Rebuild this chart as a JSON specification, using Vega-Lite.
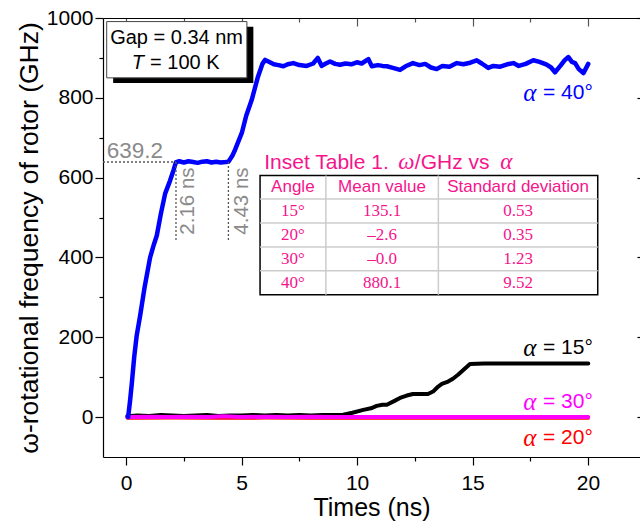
{
  "$schema": "https://vega.github.io/schema/vega-lite/v6.json",
  "width": 537,
  "height": 439,
  "autosize": {"type": "none"},
  "padding": {"left": 103, "top": 18, "right": 0, "bottom": 68},
  "background": "white",
  "config": {"view": {"stroke": null}, "font": "Liberation Sans", "axis": {"grid": false}},
  "datasets": {
    "s40": [
      {"t":0.09,"w":0},{"t":0.17,"w":40},{"t":0.25,"w":86},{"t":0.35,"w":150},{"t":0.46,"w":205},{"t":0.61,"w":255},{"t":0.8,"w":325},{"t":1.04,"w":400},{"t":1.2,"w":432},{"t":1.33,"w":455},{"t":1.5,"w":508},{"t":1.69,"w":560},{"t":1.9,"w":592},{"t":2.05,"w":618},{"t":2.16,"w":639},{"t":2.3,"w":641},{"t":2.5,"w":638},{"t":2.7,"w":641},{"t":2.9,"w":639},{"t":3.1,"w":637},{"t":3.3,"w":640},{"t":3.5,"w":641},{"t":3.7,"w":638},{"t":3.9,"w":640},{"t":4.1,"w":638},{"t":4.3,"w":639},{"t":4.43,"w":640},{"t":4.6,"w":655},{"t":4.72,"w":670},{"t":5.01,"w":712},{"t":5.2,"w":755},{"t":5.44,"w":795},{"t":5.71,"w":853},{"t":5.9,"w":885},{"t":6.02,"w":895},{"t":6.16,"w":891},{"t":6.4,"w":884},{"t":6.6,"w":882},{"t":6.81,"w":879},{"t":7.0,"w":884},{"t":7.24,"w":887},{"t":7.5,"w":882},{"t":7.82,"w":880},{"t":8.1,"w":886},{"t":8.3,"w":900},{"t":8.47,"w":880},{"t":8.65,"w":886},{"t":8.83,"w":891},{"t":9.05,"w":885},{"t":9.26,"w":883},{"t":9.5,"w":886},{"t":9.75,"w":884},{"t":9.99,"w":889},{"t":10.2,"w":886},{"t":10.49,"w":897},{"t":10.64,"w":879},{"t":10.9,"w":882},{"t":11.1,"w":880},{"t":11.29,"w":879},{"t":11.55,"w":875},{"t":11.86,"w":870},{"t":12.1,"w":879},{"t":12.42,"w":887},{"t":12.7,"w":882},{"t":12.95,"w":885},{"t":13.2,"w":876},{"t":13.45,"w":872},{"t":13.7,"w":880},{"t":14.0,"w":878},{"t":14.32,"w":887},{"t":14.6,"w":884},{"t":14.9,"w":888},{"t":15.18,"w":894},{"t":15.4,"w":886},{"t":15.68,"w":875},{"t":15.9,"w":880},{"t":16.2,"w":878},{"t":16.5,"w":884},{"t":16.77,"w":887},{"t":17.0,"w":880},{"t":17.3,"w":885},{"t":17.63,"w":894},{"t":17.9,"w":890},{"t":18.21,"w":883},{"t":18.4,"w":876},{"t":18.57,"w":864},{"t":18.8,"w":880},{"t":19.0,"w":895},{"t":19.15,"w":902},{"t":19.3,"w":890},{"t":19.44,"w":887},{"t":19.6,"w":872},{"t":19.8,"w":862},{"t":20.01,"w":885}
    ],
    "s15": [
      {"t":0.05,"w":2},{"t":0.5,"w":4},{"t":1.0,"w":3},{"t":1.5,"w":5},{"t":2.0,"w":4},{"t":2.5,"w":3},{"t":3.0,"w":4},{"t":3.5,"w":5},{"t":4.0,"w":3},{"t":4.5,"w":4},{"t":5.0,"w":4},{"t":5.5,"w":5},{"t":6.0,"w":4},{"t":6.5,"w":5},{"t":7.0,"w":4},{"t":7.5,"w":5},{"t":8.0,"w":4},{"t":8.5,"w":5},{"t":9.0,"w":5},{"t":9.4,"w":6},{"t":9.8,"w":11},{"t":10.27,"w":18},{"t":10.6,"w":22},{"t":10.85,"w":28},{"t":11.1,"w":31},{"t":11.29,"w":31},{"t":11.6,"w":40},{"t":11.86,"w":48},{"t":12.15,"w":54},{"t":12.42,"w":58},{"t":12.8,"w":58},{"t":13.07,"w":58},{"t":13.29,"w":64},{"t":13.5,"w":76},{"t":13.67,"w":83},{"t":13.94,"w":89},{"t":14.15,"w":96},{"t":14.37,"w":106},{"t":14.6,"w":118},{"t":14.89,"w":133},{"t":15.5,"w":134},{"t":16.5,"w":134},{"t":17.5,"w":134},{"t":18.5,"w":134},{"t":20.01,"w":134}
    ],
    "s30": [
      {"t":0.05,"w":0},{"t":1.0,"w":1},{"t":1.8,"w":0},{"t":2.5,"w":1},{"t":3.6,"w":0},{"t":4.2,"w":2},{"t":5.0,"w":0},{"t":6.0,"w":1},{"t":7.0,"w":0},{"t":8.0,"w":1},{"t":9.0,"w":0},{"t":10.0,"w":0},{"t":12.0,"w":0},{"t":14.0,"w":0},{"t":16.0,"w":0},{"t":18.0,"w":0},{"t":20.01,"w":0}
    ],
    "s20": [
      {"t":0.05,"w":-3},{"t":2.0,"w":-2},{"t":4.0,"w":-3},{"t":6.0,"w":-2.5},{"t":8.0,"w":-3},{"t":10.0,"w":-2.6},{"t":12.0,"w":-2.6},{"t":14.0,"w":-2.6},{"t":16.0,"w":-2.6},{"t":18.0,"w":-2.6},{"t":20.01,"w":-2.6}
    ],
    "dots": [
      {"t":-1,"t2":2.16,"w":639.2,"w2":639.2},
      {"t":2.16,"t2":2.16,"w":639.2,"w2":444},
      {"t":4.43,"t2":4.43,"w":639.2,"w2":444}
    ],
    "shadow": [{"t":-0.56,"t2":5.51,"w":978,"w2":837}],
    "box": [{"t":-0.84,"t2":5.23,"w":991,"w2":850}],
    "tableBox": [{"t":5.8,"t2":20.42,"w":605.5,"w2":306.6}],
    "tableLines": [
      {"t":5.8,"t2":20.42,"w":546.4,"w2":546.4},
      {"t":5.8,"t2":20.42,"w":486.2,"w2":486.2},
      {"t":5.8,"t2":20.42,"w":426.1,"w2":426.1},
      {"t":5.8,"t2":20.42,"w":366.7,"w2":366.7},
      {"t":8.65,"t2":8.65,"w":605.5,"w2":306.6},
      {"t":13.52,"t2":13.52,"w":605.5,"w2":306.6}
    ],
    "grayText": [{"t":-0.84,"w":650,"s":"639.2"}],
    "rotText": [{"t":2.7,"w":457,"s":"2.16 ns"},{"t":5.01,"w":457,"s":"4.43 ns"}],
    "boxText": [{"t":-0.69,"w":951,"s":"Gap = 0.34 nm"},{"t":1.04,"w":888,"s":"= 100 K"}],
    "boxItalic": [{"t":0.25,"w":888,"s":"T"}],
    "insetSans": [{"t":5.98,"w":621,"s":"Inset Table 1."},{"t":12.5,"w":621,"s":"/GHz vs"}],
    "insetSerif": [{"t":11.78,"w":621,"s":"ω"},{"t":16.2,"w":621,"s":"α"}],
    "tableHead": [{"t":7.22,"w":576,"s":"Angle"},{"t":11.08,"w":576,"s":"Mean value"},{"t":16.97,"w":576,"s":"Standard deviation"}],
    "tableBody": [
      {"t":7.22,"w":516.3,"s":"15°"},{"t":11.08,"w":516.3,"s":"135.1"},{"t":16.97,"w":516.3,"s":"0.53"},
      {"t":7.22,"w":456.2,"s":"20°"},{"t":11.08,"w":456.2,"s":"–2.6"},{"t":16.97,"w":456.2,"s":"0.35"},
      {"t":7.22,"w":396.4,"s":"30°"},{"t":11.08,"w":396.4,"s":"–0.0"},{"t":16.97,"w":396.4,"s":"1.23"},
      {"t":7.22,"w":336.7,"s":"40°"},{"t":11.08,"w":336.7,"s":"880.1"},{"t":16.97,"w":336.7,"s":"9.52"}
    ],
    "labels": [
      {"a":"40","t":18.05,"ta":17.19,"w":812.8,"s":"= 40°"},
      {"a":"15","t":18.05,"ta":17.19,"w":174,"s":"= 15°"},
      {"a":"30","t":18.05,"ta":17.19,"w":38.6,"s":"= 30°"},
      {"a":"20","t":18.05,"ta":17.19,"w":-51.6,"s":"= 20°"}
    ]
  },
  "encoding": {
    "x": {"field": "t", "type": "quantitative", "scale": {"domain": [-1, 22.25], "nice": false, "zero": false}, "axis": null},
    "y": {"field": "w", "type": "quantitative", "scale": {"domain": [-100, 1000], "nice": false, "zero": false}, "axis": null}
  },
  "layer": [
    {
      "data": {"name": "s20"},
      "mark": {"type": "line", "color": "#ff0000", "strokeWidth": 3, "strokeCap": "round", "strokeJoin": "round"},
      "encoding": {
        "x": {"field": "t", "type": "quantitative", "scale": {"domain": [-1, 22.25], "nice": false, "zero": false},
          "axis": {"orient": "bottom", "values": [0, 2.5, 5, 7.5, 10, 12.5, 15, 17.5, 20], "format": "d",
            "labelExpr": "datum.value % 5 === 0 ? datum.label : ''",
            "tickSize": {"condition": {"test": "datum.value % 5 === 0", "value": 8}, "value": 4},
            "tickColor": "#000", "tickWidth": 1.2, "domainColor": "#000", "domainWidth": 1.2,
            "labelFontSize": 21, "labelColor": "#000", "labelPadding": 7, "labelFlush": false, "labelOverlap": false,
            "title": "Times (ns)", "titleFontSize": 25, "titleFontWeight": "normal", "titleColor": "#000", "titlePadding": 2}},
        "y": {"field": "w", "type": "quantitative", "scale": {"domain": [-100, 1000], "nice": false, "zero": false},
          "axis": {"orient": "left", "values": [0, 100, 200, 300, 400, 500, 600, 700, 800, 900, 1000], "format": "d",
            "labelExpr": "datum.value % 200 === 0 ? datum.label : ''",
            "tickSize": {"condition": {"test": "datum.value % 200 === 0", "value": 8}, "value": 4},
            "tickColor": "#000", "tickWidth": 1.2, "domainColor": "#000", "domainWidth": 1.2,
            "labelFontSize": 21, "labelColor": "#000", "labelPadding": 2, "labelFlush": false, "labelOverlap": false,
            "title": "ω-rotational frequency of rotor (GHz)", "titleFontSize": 26.5, "titleFontWeight": "normal", "titleColor": "#000", "titlePadding": 3}}
      }
    },
    {
      "data": {"name": "s15"},
      "mark": {"type": "line", "color": "#000000", "strokeWidth": 4, "strokeCap": "round", "strokeJoin": "round"},
      "encoding": {
        "x": {"field": "t", "type": "quantitative", "scale": {"domain": [-1, 22.25], "nice": false, "zero": false},
          "axis": {"orient": "top", "values": [0, 2.5, 5, 7.5, 10, 12.5, 15, 17.5, 20], "labels": false, "title": null,
            "tickSize": {"condition": {"test": "datum.value % 5 === 0", "value": -8}, "value": -4},
            "tickColor": "#555", "tickWidth": 1.2, "domainColor": "#000", "domainWidth": 1.2}},
        "y": {"field": "w", "type": "quantitative", "scale": {"domain": [-100, 1000], "nice": false, "zero": false},
          "axis": {"orient": "right", "values": [0, 200, 400, 600, 800, 1000], "labels": false, "title": null,
            "tickSize": -3, "tickColor": "#000", "tickWidth": 1.2, "domain": false}}
      }
    },
    {
      "data": {"name": "s30"},
      "mark": {"type": "line", "color": "#ff00ff", "strokeWidth": 4, "strokeCap": "round", "strokeJoin": "round"}
    },
    {
      "data": {"name": "s40"},
      "mark": {"type": "line", "color": "#0000ff", "strokeWidth": 4.5, "strokeCap": "round", "strokeJoin": "round"}
    },
    {
      "data": {"name": "dots"},
      "mark": {"type": "rule", "color": "#555555", "strokeWidth": 1.3, "strokeDash": [2, 2]},
      "encoding": {"x2": {"field": "t2"}, "y2": {"field": "w2"}}
    },
    {
      "data": {"name": "shadow"},
      "mark": {"type": "rect", "color": "#000000"},
      "encoding": {"x2": {"field": "t2"}, "y2": {"field": "w2"}}
    },
    {
      "data": {"name": "box"},
      "mark": {"type": "rect", "fill": "#ffffff", "stroke": "#444444", "strokeWidth": 1},
      "encoding": {"x2": {"field": "t2"}, "y2": {"field": "w2"}}
    },
    {
      "data": {"name": "tableBox"},
      "mark": {"type": "rect", "fill": "#ffffff", "stroke": "#000000", "strokeWidth": 1.5},
      "encoding": {"x2": {"field": "t2"}, "y2": {"field": "w2"}}
    },
    {
      "data": {"name": "tableLines"},
      "mark": {"type": "rule", "color": "#cccccc", "strokeWidth": 1.5},
      "encoding": {"x2": {"field": "t2"}, "y2": {"field": "w2"}}
    },
    {
      "data": {"name": "grayText"},
      "mark": {"type": "text", "color": "#8a8a8a", "fontSize": 22.5, "align": "left", "baseline": "alphabetic"},
      "encoding": {"text": {"field": "s"}}
    },
    {
      "data": {"name": "rotText"},
      "mark": {"type": "text", "color": "#8a8a8a", "fontSize": 20.5, "align": "left", "baseline": "middle", "angle": 270},
      "encoding": {"text": {"field": "s"}}
    },
    {
      "data": {"name": "boxText"},
      "mark": {"type": "text", "color": "#000000", "fontSize": 20, "align": "left", "baseline": "middle"},
      "encoding": {"text": {"field": "s"}}
    },
    {
      "data": {"name": "boxItalic"},
      "mark": {"type": "text", "color": "#000000", "fontSize": 20, "fontStyle": "italic", "align": "left", "baseline": "middle"},
      "encoding": {"text": {"field": "s"}}
    },
    {
      "data": {"name": "insetSans"},
      "mark": {"type": "text", "color": "#f5148c", "fontSize": 21, "align": "left", "baseline": "alphabetic"},
      "encoding": {"text": {"field": "s"}}
    },
    {
      "data": {"name": "insetSerif"},
      "mark": {"type": "text", "color": "#f5148c", "fontSize": 23, "font": "Liberation Serif", "fontStyle": "italic", "align": "left", "baseline": "alphabetic"},
      "encoding": {"text": {"field": "s"}}
    },
    {
      "data": {"name": "tableHead"},
      "mark": {"type": "text", "color": "#f5148c", "fontSize": 17, "align": "center", "baseline": "middle"},
      "encoding": {"text": {"field": "s"}}
    },
    {
      "data": {"name": "tableBody"},
      "mark": {"type": "text", "color": "#f5148c", "fontSize": 17, "font": "Liberation Serif", "align": "center", "baseline": "middle"},
      "encoding": {"text": {"field": "s"}}
    },
    {
      "data": {"name": "labels"},
      "mark": {"type": "text", "fontSize": 21, "align": "left", "baseline": "middle"},
      "encoding": {
        "text": {"field": "s"},
        "color": {"field": "a", "type": "nominal", "scale": {"domain": ["40", "15", "30", "20"], "range": ["#0000ff", "#000000", "#ff00ff", "#ff0000"]}, "legend": null}
      }
    },
    {
      "data": {"name": "labels"},
      "mark": {"type": "text", "fontSize": 25, "font": "Liberation Serif", "fontStyle": "italic", "align": "left", "baseline": "middle", "text": "α"},
      "encoding": {
        "x": {"field": "ta", "type": "quantitative", "scale": {"domain": [-1, 22.25], "nice": false, "zero": false}, "axis": null},
        "color": {"field": "a", "type": "nominal", "scale": {"domain": ["40", "15", "30", "20"], "range": ["#0000ff", "#000000", "#ff00ff", "#ff0000"]}, "legend": null}
      }
    }
  ],
  "resolve": {"axis": {"x": "independent", "y": "independent"}}
}
